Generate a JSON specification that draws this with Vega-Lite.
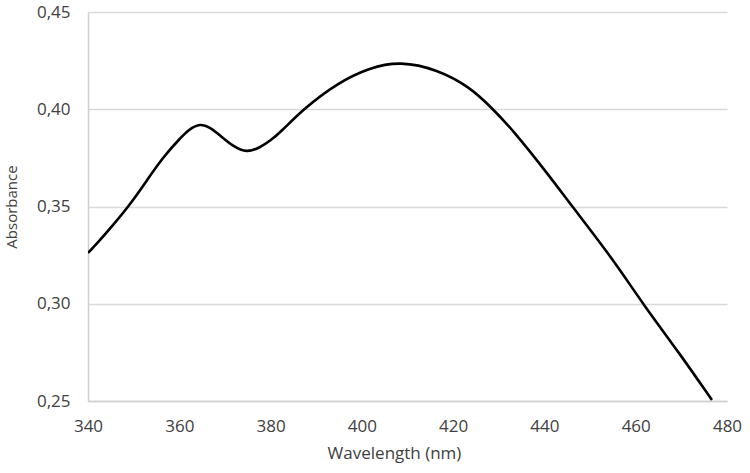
{
  "$schema": "https://vega.github.io/schema/vega-lite/v6.json",
  "autosize": {"type": "none"},
  "padding": {"left": 88, "top": 12, "right": 23, "bottom": 72},
  "width": 639,
  "height": 389,
  "background": "white",
  "config": {
    "view": {"stroke": null},
    "font": "Open Sans"
  },
  "data": {
    "values": [
      {"wavelength": 340.0, "absorbance": 0.3261},
      {"wavelength": 342.6, "absorbance": 0.3326},
      {"wavelength": 345.5, "absorbance": 0.3405},
      {"wavelength": 349.2, "absorbance": 0.3510},
      {"wavelength": 352.9, "absorbance": 0.3634},
      {"wavelength": 356.4, "absorbance": 0.3752},
      {"wavelength": 360.2, "absorbance": 0.3852},
      {"wavelength": 362.3, "absorbance": 0.3899},
      {"wavelength": 364.5, "absorbance": 0.3926},
      {"wavelength": 366.7, "absorbance": 0.3909},
      {"wavelength": 368.9, "absorbance": 0.3866},
      {"wavelength": 371.8, "absorbance": 0.3809},
      {"wavelength": 374.8, "absorbance": 0.3776},
      {"wavelength": 377.7, "absorbance": 0.3803},
      {"wavelength": 380.0, "absorbance": 0.3840},
      {"wavelength": 382.1, "absorbance": 0.3880},
      {"wavelength": 387.1, "absorbance": 0.4000},
      {"wavelength": 394.6, "absorbance": 0.4135},
      {"wavelength": 401.8, "absorbance": 0.4215},
      {"wavelength": 408.4, "absorbance": 0.4247},
      {"wavelength": 416.5, "absorbance": 0.4205},
      {"wavelength": 423.7, "absorbance": 0.4114},
      {"wavelength": 428.5, "absorbance": 0.4006},
      {"wavelength": 433.1, "absorbance": 0.3893},
      {"wavelength": 440.6, "absorbance": 0.3672},
      {"wavelength": 446.0, "absorbance": 0.3503},
      {"wavelength": 455.0, "absorbance": 0.3230},
      {"wavelength": 461.4, "absorbance": 0.3004},
      {"wavelength": 469.7, "absorbance": 0.2742},
      {"wavelength": 476.7, "absorbance": 0.2505}
    ]
  },
  "mark": {"type": "line", "color": "black", "strokeWidth": 2.6, "interpolate": "basis", "clip": true},
  "encoding": {
    "x": {
      "field": "wavelength",
      "type": "quantitative",
      "scale": {"domain": [340, 480], "nice": false, "zero": false},
      "axis": {
        "title": "Wavelength (nm)",
        "values": [340, 360, 380, 400, 420, 440, 460, 480],
        "grid": false,
        "ticks": false,
        "labelFlush": false,
        "domainColor": "#d0d0d0",
        "domainWidth": 1.5,
        "labelFontSize": 17,
        "labelColor": "#404040",
        "labelPadding": 17,
        "labelFont": "Open Sans",
        "titleFont": "Open Sans",
        "titleFontSize": 17,
        "titleFontWeight": "normal",
        "titleColor": "#404040",
        "titlePadding": 11,
        "titleX": 306
      }
    },
    "y": {
      "field": "absorbance",
      "type": "quantitative",
      "scale": {"domain": [0.25, 0.45], "nice": false, "zero": false},
      "axis": {
        "title": "Absorbance",
        "values": [0.25, 0.3, 0.35, 0.4, 0.45],
        "format": ".2f",
        "labelExpr": "replace(datum.label, '.', ',')",
        "grid": true,
        "gridColor": "#d9d9d9",
        "gridWidth": 1.5,
        "ticks": false,
        "labelFlush": false,
        "domainColor": "#d0d0d0",
        "domainWidth": 1.5,
        "labelFontSize": 17,
        "labelColor": "#404040",
        "labelPadding": 18,
        "labelFont": "Open Sans",
        "titleFont": "Open Sans",
        "titleFontSize": 15,
        "titleFontWeight": "normal",
        "titleColor": "#404040",
        "titlePadding": 17
      }
    }
  }
}
